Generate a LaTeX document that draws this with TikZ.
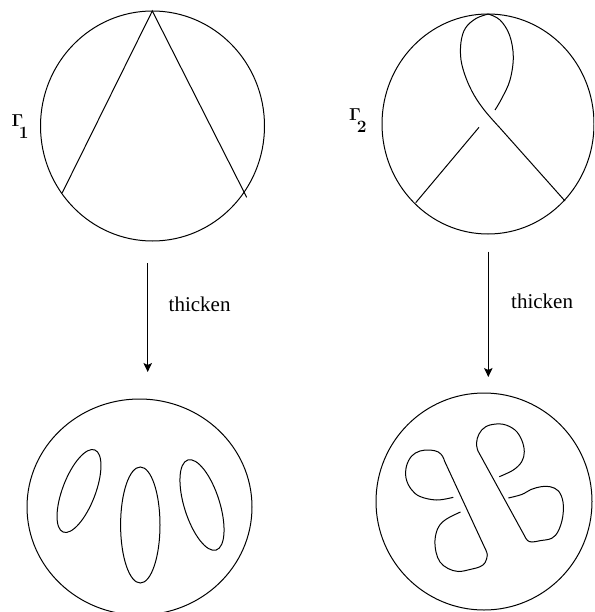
\documentclass[tikz,border=0pt]{standalone}
\usepackage[no-math]{fontspec}
\setmainfont{Liberation Serif}
\usetikzlibrary{arrows.meta}
\begin{document}
\begin{tikzpicture}[x=1pt,y=-1pt,
  line/.style={line width=1pt},
  arr/.style={line width=1pt,-{Stealth[length=9pt,width=8.5pt,inset=2pt]}},
  lbl/.style={inner sep=0pt,anchor=base west,font=\fontsize{21}{24}\selectfont},
  glbl/.style={inner sep=0pt,anchor=base west,font=\fontsize{17.28}{20}\selectfont}]
\useasboundingbox (0,0) rectangle (594,612);
\clip (0,0) rectangle (594,612);

% ---------- top left: Gamma_1 ----------
\draw[line] (152.5,126) ellipse [x radius=112, y radius=115];
\coordinate (A1) at (152.3,11);
\coordinate (L1) at (62.3,192.7);
\coordinate (R1) at (246.7,197.3);
\draw[line] (L1) -- (A1) -- (R1);
\node[glbl] (g1) at (11.5,127) {$\mathbf{\Gamma}$\kern-4.5pt\raisebox{-11.5pt}{$\mathbf{1}$}};

% ---------- top right: Gamma_2 ----------
\draw[line] (488,124) ellipse [x radius=106, y radius=110];
\coordinate (A2) at (488.3,14);
\coordinate (P2) at (415.7,202.7);
\coordinate (Q2) at (565,201);
\coordinate (U2) at (479,127.3);
\draw[line] plot[smooth,tension=0.6] coordinates {(488.3,14) (476,18.5) (465.5,28) (461,42) (461,60) (466,78) (474,95) (485,111) (500,128)} -- (Q2);
\draw[line] plot[smooth,tension=0.6] coordinates {(488.3,14) (500,20) (509.5,35) (513.3,56.7) (510,80) (502,98) (495,110)};
\draw[line] (U2) -- (P2);
\node[glbl] (g2) at (349,120.7) {$\mathbf{\Gamma}$\kern-4pt\raisebox{-11.6pt}{$\mathbf{2}$}};

% ---------- arrows ----------
\coordinate (s1) at (147.7,263);
\coordinate (e1) at (147.7,372);
\draw[arr] (s1) -- (e1);
\node[lbl] (t1) at (168.5,311) {thicken};
\coordinate (s2) at (488.3,251.7);
\coordinate (e2) at (488.3,377);
\draw[arr] (s2) -- (e2);
\node[lbl] (t2) at (511,308.3) {thicken};

% ---------- bottom left ----------
\draw[line] (139.5,507) ellipse [x radius=112.5, y radius=108];
\draw[line, rotate around={-21:(79,491)}] (79,491) ellipse [x radius=16.4, y radius=44];
\draw[line] (140.3,525) ellipse [x radius=19.7, y radius=58];
\draw[line, rotate around={17.5:(202,505)}] (202,505) ellipse [x radius=17.7, y radius=47.2];

% ---------- bottom right ----------
\draw[line] (484,501.5) ellipse [x radius=108, y radius=108.5];
\draw[line] plot[smooth,tension=0.6] coordinates {(453.3,497.3) (436.7,500) (420,496.5) (411,489) (406,478) (406.5,466) (411.7,456) (420,451) (430,450) (438.3,452) (442.7,456.5) (444.5,461)}
  -- plot[smooth,tension=0.6] coordinates {(485,548.3) (487.3,555) (485,562.7) (480,566.7) (470,569.5) (458.3,571.5) (448,568.5) (440,562) (436,552) (435,540) (437.5,529) (442.5,522) (450,517) (460.5,512)};
\draw[line] plot[smooth,tension=0.6] coordinates {(499.3,476.7) (513.3,470) (521.7,461.7) (524.3,451.7) (521.7,440) (515,430) (503.3,424.3) (490,425) (481.7,430) (477.3,438.3) (476.7,446) (478,451)}
  -- plot[smooth,tension=0.6] coordinates {(525,536.7) (527.5,540.5) (532,542) (540,540.7) (551.7,538.3) (558.3,531) (562.7,517) (563,502) (558.5,491) (550,486.7) (541,486.7) (531,489.5) (521.7,494.5) (508.3,498)};
\end{tikzpicture}
\end{document}
